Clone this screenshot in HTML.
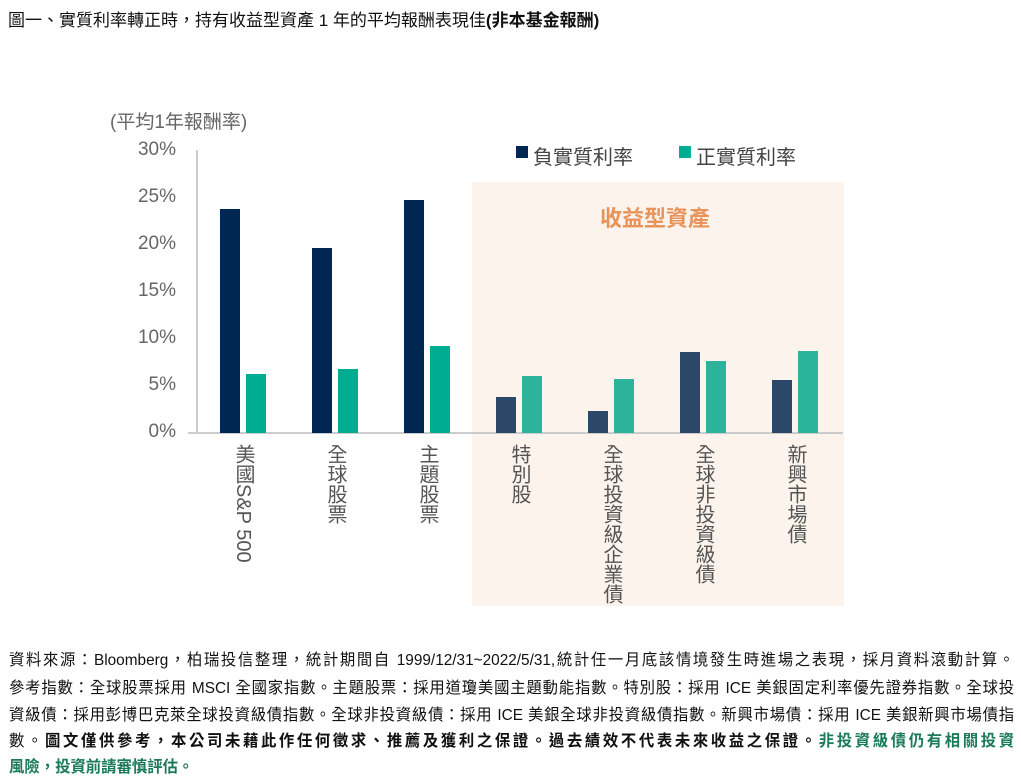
<!DOCTYPE html>
<html><head><meta charset="utf-8"><style>
body{margin:0;width:1021px;height:778px;background:#fff;position:relative;overflow:hidden;font-family:"Liberation Sans","Noto Sans CJK TC",sans-serif;}
.t{position:absolute;white-space:nowrap}
.bar{position:absolute;width:20px}
.lab{position:absolute;top:444px;writing-mode:vertical-rl;font-size:20px;color:#555;line-height:22px;letter-spacing:0px}
.yt{position:absolute;left:120px;width:56px;text-align:right;font-size:19px;color:#666}
.fl{position:absolute;left:9px;width:1047px;font-size:16px;line-height:20px;color:#111;transform:scaleX(0.96);transform-origin:0 0;text-align:justify;text-align-last:justify;white-space:nowrap}
.fl .n{display:inline-block;transform:scaleX(0.8);transform-origin:50% 50%;margin:0 -0.1em}
</style></head><body>
<div class="t" style="left:8px;top:6px;font-size:17px;color:#111">圖一、實質利率轉正時，持有收益型資產 1 年的平均報酬表現佳<b>(非本基金報酬)</b></div>
<div style="position:absolute;left:472px;top:182px;width:372px;height:424px;background:#fbf3ec"></div>
<div class="t" style="left:110px;top:107px;font-size:19px;color:#666">(平均1年報酬率)</div>
<div style="position:absolute;left:196px;top:150px;width:2px;height:283px;background:#ccc"></div>
<div style="position:absolute;left:188px;top:432px;width:655px;height:2px;background:#ccc"></div>
<div class="yt" style="top:139px">30%</div>
<div class="yt" style="top:186px">25%</div>
<div class="yt" style="top:233px">20%</div>
<div class="yt" style="top:280px">15%</div>
<div class="yt" style="top:327px">10%</div>
<div class="yt" style="top:374px">5%</div>
<div class="yt" style="top:421px">0%</div>
<div style="position:absolute;left:516px;top:146px;width:12px;height:12px;background:#002652"></div>
<div class="t" style="left:533px;top:141px;font-size:20px;color:#444">負實質利率</div>
<div style="position:absolute;left:679px;top:146px;width:12px;height:12px;background:#00ad93"></div>
<div class="t" style="left:696px;top:141px;font-size:20px;color:#444">正實質利率</div>
<div class="t" style="left:600px;top:201px;font-size:22px;color:#e8935a;font-weight:bold">收益型資產</div>
<div class="bar" style="left:220px;top:209px;height:224px;background:#002652"></div>
<div class="bar" style="left:246px;top:374px;height:59px;background:#00ad93"></div>
<div class="bar" style="left:312px;top:248px;height:185px;background:#002652"></div>
<div class="bar" style="left:338px;top:369px;height:64px;background:#00ad93"></div>
<div class="bar" style="left:404px;top:200px;height:233px;background:#002652"></div>
<div class="bar" style="left:430px;top:346px;height:87px;background:#00ad93"></div>
<div class="bar" style="left:496px;top:397px;height:36px;background:#2c4868"></div>
<div class="bar" style="left:522px;top:376px;height:57px;background:#2bb39b"></div>
<div class="bar" style="left:588px;top:411px;height:22px;background:#2c4868"></div>
<div class="bar" style="left:614px;top:379px;height:54px;background:#2bb39b"></div>
<div class="bar" style="left:680px;top:352px;height:81px;background:#2c4868"></div>
<div class="bar" style="left:706px;top:361px;height:72px;background:#2bb39b"></div>
<div class="bar" style="left:772px;top:380px;height:53px;background:#2c4868"></div>
<div class="bar" style="left:798px;top:351px;height:82px;background:#2bb39b"></div>
<div class="lab" style="left:232px">美國S&amp;P 500</div>
<div class="lab" style="left:324px">全球股票</div>
<div class="lab" style="left:416px">主題股票</div>
<div class="lab" style="left:508px">特別股</div>
<div class="lab" style="left:600px">全球投資級企業債</div>
<div class="lab" style="left:692px">全球非投資級債</div>
<div class="lab" style="left:784px">新興市場債</div>
<div class="fl" style="top:651px">資料來源：Bloomberg，柏瑞投信整理，統計期間自 1999/12/31~2022/5/31,統計任一月底該情境發生時進場之表現，採月資料滾動計算。</div>
<div class="fl" style="top:679px">參考指數：全球股票採用 MSCI 全國家指數。主題股票：採用道瓊美國主題動能指數。特別股：採用 ICE 美銀固定利率優先證券指數。全球投</div>
<div class="fl" style="top:706px">資級債：採用彭博巴克萊全球投資級債指數。全球非投資級債：採用 ICE 美銀全球非投資級債指數。新興市場債：採用 ICE 美銀新興市場債指</div>
<div class="fl" style="top:732px">數。<b>圖文僅供參考，本公司未藉此作任何徵求、推薦及獲利之保證。過去績效不代表未來收益之保證。</b><b style="color:#1a7a5a">非投資級債仍有相關投資</b></div>
<div class="fl" style="top:758px;text-align-last:left"><b style="color:#1a7a5a">風險，投資前請審慎評估。</b></div>
</body></html>
